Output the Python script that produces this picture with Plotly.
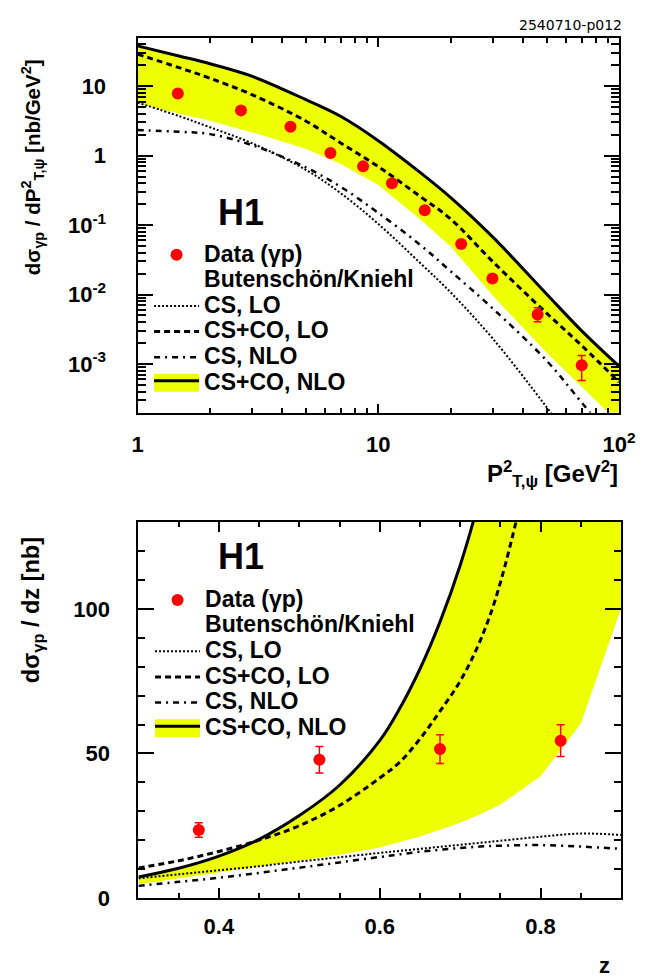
import plotly.graph_objects as go
import math

# ---------------- data: top panel (d sigma / dPt^2) ----------------
pt2_grid = [1, 1.5, 2, 3, 5, 7, 10, 15, 20, 30, 50, 70, 100]
pt_cs_co_nlo = [38, 27, 21, 13.8, 6.4, 3.65, 1.64, 0.565, 0.249, 0.0664, 0.0102, 0.0030, 0.00093]
pt_band_low = [5.6, 4.0, 3.18, 2.16, 1.26, 0.755, 0.376, 0.119, 0.049, 0.0095, 0.00146, 0.00047, 0.00014]
pt_cs_co_lo = [28.9, 18.3, 13.0, 7.5, 3.15, 1.51, 0.695, 0.255, 0.122, 0.0294, 0.0054, 0.00184, 0.00055]
pt_cs_lo = [5.8, 3.67, 2.56, 1.50, 0.625, 0.286, 0.104, 0.028, 0.0107, 0.00229, 0.00024, 0.00005, 0.000008]
pt_cs_nlo = [2.33, 2.2, 2.04, 1.41, 0.677, 0.353, 0.150, 0.0512, 0.0216, 0.00622, 0.00112, 0.000278, 0.00006]

pt2_data = [1.47, 2.69, 4.32, 6.33, 8.65, 11.4, 15.6, 22.1, 29.8, 45.9, 70.0]
pt_data = [7.86, 4.48, 2.60, 1.09, 0.70, 0.40, 0.163, 0.0533, 0.0170, 0.00516, 0.00096]
pt_err_up = [0.3, 0.18, 0.1, 0.05, 0.03, 0.02, 0.008, 0.003, 0.0012, 0.0013, 0.00037]
pt_err_dn = [0.3, 0.18, 0.1, 0.05, 0.03, 0.02, 0.008, 0.003, 0.0012, 0.0011, 0.00038]

# ---------------- data: bottom panel (d sigma / dz) ----------------
z_grid = [0.30, 0.35, 0.40, 0.45, 0.50, 0.55, 0.60, 0.625, 0.65, 0.675, 0.70, 0.725, 0.75, 0.80, 0.85, 0.90]
z_cs_co_nlo = [7.3, 10.3, 14.5, 20.3, 28.5, 39.0, 54.4, 65.6, 79.2, 95.5, 115, 139, 168, 250, 370, 540]
z_band_low = [4.8, 6.8, 8.8, 10.8, 12.9, 15.0, 17.5, 19.3, 21.3, 23.6, 26.0, 29.0, 32.3, 42.1, 60.3, 100]
z_cs_co_lo = [10.4, 12.9, 16.1, 20.0, 25.0, 32.0, 41.5, 47.0, 55.0, 64.6, 75.0, 89.0, 109, 170, 260, 400]
z_cs_lo = [6.8, 8.2, 9.6, 11.0, 12.6, 14.1, 15.6, 16.3, 17.0, 17.7, 18.4, 19.1, 19.8, 21.2, 22.3, 21.8]
z_cs_nlo = [4.2, 5.6, 7.0, 8.7, 10.5, 12.3, 14.2, 15.1, 16.0, 16.7, 17.3, 17.8, 18.1, 18.3, 17.8, 17.0]

z_data = [0.375, 0.525, 0.675, 0.825]
z_vals = [23.5, 47.8, 51.5, 54.4]
z_err = [2.5, 4.6, 5.0, 5.5]

# ---------------- labels ----------------
legend_names = ["Data (γp)", "Butenschön/Kniehl", "CS, LO", "CS+CO, LO", "CS, NLO", "CS+CO, NLO"]
pt_ticks = [1, 10, 100]
pt_ticktext = ["1", "10", "10<sup>2</sup>"]
pty_ticks = [1e-3, 1e-2, 1e-1, 1, 10]
pty_ticktext = ["10<sup>-3</sup>", "10<sup>-2</sup>", "10<sup>-1</sup>", "1", "10"]

W, H = 656, 979
FONT = "Liberation Sans"
YELLOW = "rgb(238,255,0)"
RED = "rgb(255,0,0)"

def nm(s):
    return "<span style='font-size:23px'>" + s + "</span>"

fig = go.Figure()

def add_panel(xs, solid, low, colo, cslo, csnlo, xd, yd, eu, ed, xa, ya, leg):
    fig.add_trace(go.Scatter(x=xs, y=low, mode="lines", line=dict(width=0, color=YELLOW),
                             showlegend=False, xaxis=xa, yaxis=ya, hoverinfo="skip"))
    fig.add_trace(go.Scatter(x=xs, y=solid, mode="lines", fill="tonexty", fillcolor=YELLOW,
                             line=dict(color="black", width=3, shape="spline"),
                             name=nm(legend_names[5]), legendrank=6, legend=leg, xaxis=xa, yaxis=ya))
    fig.add_trace(go.Scatter(x=xs, y=cslo, mode="lines",
                             line=dict(color="black", width=2, dash="2px,2px", shape="spline"),
                             name=nm(legend_names[2]), legendrank=3, legend=leg, xaxis=xa, yaxis=ya))
    fig.add_trace(go.Scatter(x=xs, y=colo, mode="lines",
                             line=dict(color="black", width=3, dash="6px,4px", shape="spline"),
                             name=nm(legend_names[3]), legendrank=4, legend=leg, xaxis=xa, yaxis=ya))
    fig.add_trace(go.Scatter(x=xs, y=csnlo, mode="lines",
                             line=dict(color="black", width=2.5, dash="6px,5px,2px,5px", shape="spline"),
                             name=nm(legend_names[4]), legendrank=5, legend=leg, xaxis=xa, yaxis=ya))
    fig.add_trace(go.Scatter(x=[None], y=[None], mode="lines", line=dict(width=0, color="rgba(0,0,0,0)"),
                             name=nm(legend_names[1]), legendrank=2, legend=leg, xaxis=xa, yaxis=ya))
    fig.add_trace(go.Scatter(x=xd, y=yd, mode="markers",
                             marker=dict(color=RED, size=12, symbol="circle"),
                             error_y=dict(type="data", symmetric=False, array=eu, arrayminus=ed,
                                          color=RED, thickness=1.5, width=4),
                             name=nm(legend_names[0]), legendrank=1, legend=leg, xaxis=xa, yaxis=ya))

add_panel(pt2_grid, pt_cs_co_nlo, pt_band_low, pt_cs_co_lo, pt_cs_lo, pt_cs_nlo,
          pt2_data, pt_data, pt_err_up, pt_err_dn, "x", "y", "legend")
add_panel(z_grid, z_cs_co_nlo, z_band_low, z_cs_co_lo, z_cs_lo, z_cs_nlo,
          z_data, z_vals, z_err, z_err, "x2", "y2", "legend2")

tickfont = dict(family=FONT, size=22, color="black", weight="bold")
common = dict(showline=True, linewidth=2, linecolor="black", mirror="allticks", ticks="inside",
              tickwidth=1.5, tickcolor="black", showgrid=False, zeroline=False, tickfont=tickfont)

minor_pt = [k * 10 ** e for e in range(0, 2) for k in range(2, 10)]
minor_y = [k * 10 ** e for e in range(-4, 2) for k in range(2, 10)]

def px_x(a, b):
    return [a / W, b / W]

def px_y(top, bot):
    return [1 - bot / H, 1 - top / H]

fig.update_layout(
    width=W, height=H, margin=dict(l=0, r=0, t=0, b=0),
    paper_bgcolor="white", plot_bgcolor="white",
    font=dict(family=FONT, color="black"),
    xaxis=dict(type="log", range=[0, 2], domain=px_x(128, 627), anchor="y",
               tickmode="array", tickvals=pt_ticks, ticktext=pt_ticktext, ticklen=9,
               ticklabelstandoff=11,
               minor=dict(tickmode="array", tickvals=minor_pt, ticks="inside", ticklen=5,
                          tickwidth=1.5, tickcolor="black", showgrid=False), **common),
    yaxis=dict(type="log", range=[math.log10(2e-4), math.log10(50)], domain=px_y(30, 410), anchor="x",
               tickmode="array", tickvals=pty_ticks, ticktext=pty_ticktext, ticklen=15,
               ticklabelstandoff=25,
               minor=dict(tickmode="array", tickvals=minor_y, ticks="inside", ticklen=8,
                          tickwidth=1.5, tickcolor="black", showgrid=False), **common),
    xaxis2=dict(range=[0.3, 0.9], domain=px_x(129, 629), anchor="y2",
                tickmode="array", tickvals=[0.4, 0.6, 0.8], ticktext=["0.4", "0.6", "0.8"], ticklen=10,
                ticklabelstandoff=8,
                minor=dict(dtick=0.05, tick0=0.3, ticks="inside", ticklen=5, tickwidth=1.5,
                           tickcolor="black", showgrid=False), **common),
    yaxis2=dict(range=[0, 130], domain=px_y(521, 902), anchor="x2",
                tickmode="array", tickvals=[0, 50, 100], ticktext=["0", "50", "100"], ticklen=16,
                ticklabelstandoff=22,
                minor=dict(dtick=10, tick0=0, ticks="inside", ticklen=7, tickwidth=1.5,
                           tickcolor="black", showgrid=False), **common),
    legend=dict(x=140 / W, y=1 - 232 / H, xanchor="left", yanchor="top", bgcolor="rgba(0,0,0,0)",
                font=dict(family=FONT, size=17.4, color="black", weight="bold"),
                traceorder="normal", itemwidth=45),
    legend2=dict(x=141 / W, y=1 - 582 / H, xanchor="left", yanchor="top", bgcolor="rgba(0,0,0,0)",
                 font=dict(family=FONT, size=17.4, color="black", weight="bold"),
                 traceorder="normal", itemwidth=45),
    showlegend=True,
)

ann_font = dict(family=FONT, color="black", weight="bold")
annotations = [
    dict(text="H1", x=235 / W, y=1 - 207 / H, font=dict(size=36, **ann_font)),
    dict(text="H1", x=235 / W, y=1 - 556 / H, font=dict(size=36, **ann_font)),
    dict(text="dσ<sub>γp</sub> / dP<sup>2</sup><sub>T,ψ</sub> [nb/GeV<sup>2</sup>]", x=20 / W, y=1 - 161 / H,
         textangle=-90, font=dict(size=20.5, **ann_font)),
    dict(text="dσ<sub>γp</sub> / dz [nb]", x=20 / W, y=1 - 610 / H,
         textangle=-90, font=dict(size=23.5, **ann_font)),
    dict(text="P<sup>2</sup><sub>T,ψ</sub> [GeV<sup>2</sup>]", x=628 / W, y=1 - 472 / H, xanchor="right",
         font=dict(size=24, **ann_font)),
    dict(text="z", x=612 / W, y=1 - 970 / H, font=dict(size=22, **ann_font)),
    dict(text="2540710-p012", x=632 / W, y=1 - 17 / H, xanchor="right",
         font=dict(family="DejaVu Sans", size=14, color="black")),
]
for a in annotations:
    a.update(xref="paper", yref="paper", showarrow=False)
    a.setdefault("xanchor", "center")
    a.setdefault("yanchor", "middle")
fig.update_layout(annotations=annotations)

# make the band swatch in the legends a box centred on the line (ROOT style)
post = """
var fixFill = function(){
  document.querySelectorAll('.legendfill path').forEach(function(p){
    p.setAttribute('d','M5,-9h45v18h-45z');
  });
};
fixFill();
var gd = document.getElementsByClassName('plotly-graph-div')[0];
if (gd && gd.on) { gd.on('plotly_afterplot', fixFill); }
"""
fig.write_html("out.html", post_script=post)
